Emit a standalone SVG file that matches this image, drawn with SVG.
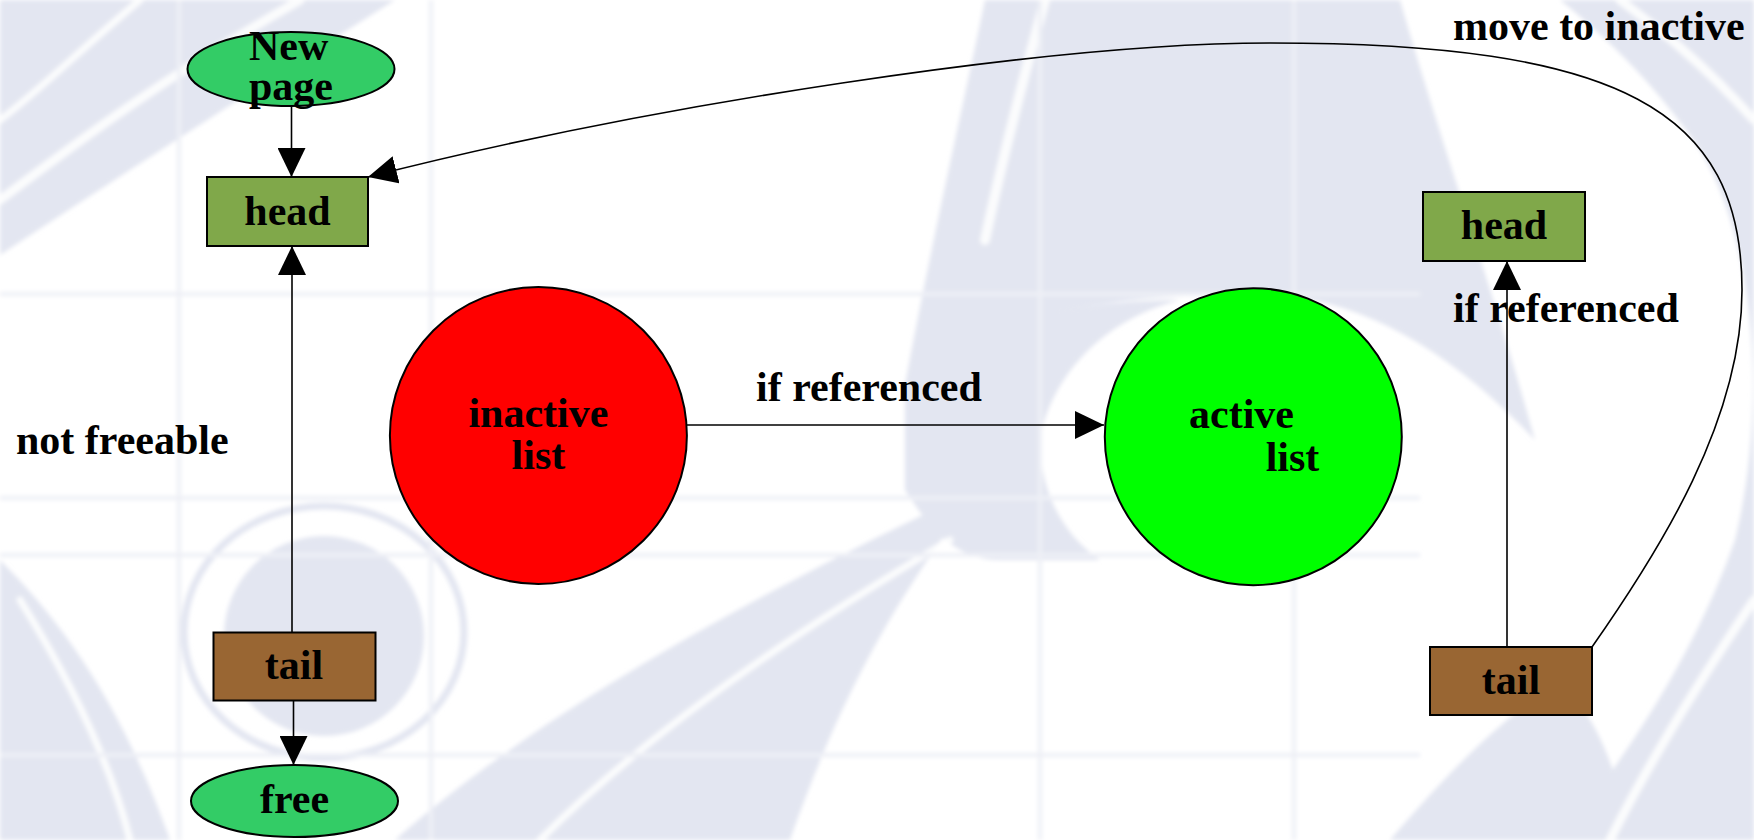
<svg xmlns="http://www.w3.org/2000/svg" width="1754" height="840" viewBox="0 0 1754 840">
  <style>
    .bg { fill: #e3e6f1; stroke: none; }
    .streak { fill: none; stroke: #ffffff; stroke-linecap: round; opacity: 0.85; }
    .gridw { stroke: #eef0f6; stroke-width: 4; }
    .node { stroke: #000000; stroke-width: 2; }
    .oval { fill: #33cc66; }
    .headbox { fill: #80a84a; }
    .tailbox { fill: #996633; }
    .lbl { font-family: "Liberation Serif", "Times New Roman", serif; font-weight: bold; font-size: 42px; fill: #000000; }
    .mid { text-anchor: middle; }
    .edge { fill: none; stroke: #000000; stroke-width: 1.6; }
  </style>
  <defs>
    <marker id="arrow" markerUnits="userSpaceOnUse" viewBox="0 0 29 28" markerWidth="29" markerHeight="28" refX="29" refY="14" orient="auto">
      <path d="M0,0 L29,14 L0,28 Z" fill="#000000"/>
    </marker>
    <filter id="soft" x="-5%" y="-5%" width="110%" height="110%">
      <feGaussianBlur stdDeviation="2"/>
    </filter>
  </defs>

  <!-- backdrop: pale swooshes and grid -->
  <rect width="1754" height="840" fill="#ffffff"/>
  <g id="backdrop" filter="url(#soft)">
    <path class="bg" d="M0,0 H395 C300,60 160,150 0,255 Z"/>
    <path class="bg" d="M985,0 H1400 C1440,140 1490,280 1535,440 C1460,360 1380,310 1300,298 C1180,290 1080,300 1000,330 C960,345 930,365 905,385 C930,250 960,120 985,0 Z"/>
    <path class="bg" d="M1560,0 H1754 V840 H1560 C1640,740 1700,640 1735,540 C1765,420 1760,250 1700,150 C1660,90 1610,40 1560,0 Z"/>
    <path class="bg" d="M905,385 C960,330 1060,300 1180,300 C1100,320 1050,380 1040,440 C1040,500 1070,540 1100,560 H1000 C950,560 925,520 905,490 Z"/>
    <path class="bg" d="M0,560 C60,620 120,700 170,840 H0 Z"/>
    <ellipse class="bg" cx="324" cy="636" rx="100" ry="100"/>
    <ellipse cx="324" cy="632" rx="140" ry="126" fill="none" stroke="#e3e6f1" stroke-width="7"/>
    <path class="bg" d="M395,840 C520,730 700,620 975,490 C930,560 860,640 790,840 Z"/>
    <path class="bg" d="M1390,840 C1450,770 1500,720 1560,680 C1600,720 1620,780 1630,840 Z"/>
    <path class="streak" stroke-width="9" d="M0,200 C80,140 160,80 300,0"/>
    <path class="streak" stroke-width="7" d="M0,120 C40,90 80,50 140,0"/>
    <path class="streak" stroke-width="10" d="M1045,0 C1020,90 1000,170 985,240"/>
    <path class="streak" stroke-width="10" d="M1445,0 C1480,150 1520,300 1560,540"/>
    <path class="streak" stroke-width="9" d="M1754,120 C1700,60 1660,30 1620,0"/>
    <path class="streak" stroke-width="9" d="M1754,600 C1700,680 1650,760 1610,840"/>
    <path class="streak" stroke-width="7" d="M20,600 C70,680 110,760 130,840"/>
    <path class="streak" stroke-width="7" d="M540,840 C640,740 780,640 950,540"/>
    <line class="gridw" x1="179" y1="0" x2="179" y2="840"/>
    <line class="gridw" x1="431" y1="0" x2="431" y2="840"/>
    <line class="gridw" x1="1040" y1="0" x2="1040" y2="840"/>
    <line class="gridw" x1="1294" y1="0" x2="1294" y2="840"/>
    <line class="gridw" x1="0" y1="294" x2="1420" y2="294"/>
    <line class="gridw" x1="0" y1="498" x2="1420" y2="498"/>
    <line class="gridw" x1="0" y1="555" x2="1420" y2="555"/>
    <line class="gridw" x1="0" y1="755" x2="1420" y2="755"/>
  </g>

  <!-- connectors -->
  <g id="connectors">
    <path class="edge" marker-end="url(#arrow)" d="M291.5,106 V177"/>
    <path class="edge" marker-end="url(#arrow)" d="M292,632 V246"/>
    <path class="edge" marker-end="url(#arrow)" d="M293.5,700.5 V765"/>
    <path class="edge" marker-end="url(#arrow)" d="M687,425 H1104"/>
    <path class="edge" marker-end="url(#arrow)" d="M1507,647 V261"/>
    <path class="edge" marker-end="url(#arrow)" d="M1592,647 C1660,550 1742,420 1742,290 C1742,110 1620,43 1270,43 C1050,43 650,105 368,177"/>
  </g>

  <!-- edge labels -->
  <g id="labels">
    <text class="lbl" x="16" y="454">not freeable</text>
    <text class="lbl" x="756" y="401">if referenced</text>
    <text class="lbl" x="1453" y="322">if referenced</text>
    <text class="lbl" x="1453" y="40">move to inactive</text>
  </g>

  <!-- nodes -->
  <g id="new-page">
    <ellipse class="node oval" cx="291" cy="69" rx="103.5" ry="37"/>
    <text class="lbl" x="249" y="60">New</text>
    <text class="lbl" x="249" y="100">page</text>
  </g>
  <g id="inactive-head">
    <rect class="node headbox" x="207" y="177" width="161" height="69"/>
    <text class="lbl mid" x="287.5" y="225">head</text>
  </g>
  <g id="inactive-tail">
    <rect class="node tailbox" x="213.5" y="632.5" width="162" height="68"/>
    <text class="lbl mid" x="294" y="679">tail</text>
  </g>
  <g id="free">
    <ellipse class="node oval" cx="294.5" cy="801" rx="103.5" ry="36"/>
    <text class="lbl mid" x="294.5" y="813">free</text>
  </g>
  <g id="inactive-list">
    <circle class="node" cx="538.4" cy="435.5" r="148.5" fill="#ff0000"/>
    <text class="lbl mid" x="538.4" y="427">inactive</text>
    <text class="lbl mid" x="538.4" y="469">list</text>
  </g>
  <g id="active-list">
    <circle class="node" cx="1253.3" cy="436.7" r="148.5" fill="#00ff00"/>
    <text class="lbl mid" x="1241.5" y="428">active</text>
    <text class="lbl mid" x="1292.5" y="471">list</text>
  </g>
  <g id="active-head">
    <rect class="node headbox" x="1423" y="192" width="162" height="69"/>
    <text class="lbl mid" x="1504" y="239">head</text>
  </g>
  <g id="active-tail">
    <rect class="node tailbox" x="1430" y="647" width="162" height="68"/>
    <text class="lbl mid" x="1511" y="694">tail</text>
  </g>
</svg>
